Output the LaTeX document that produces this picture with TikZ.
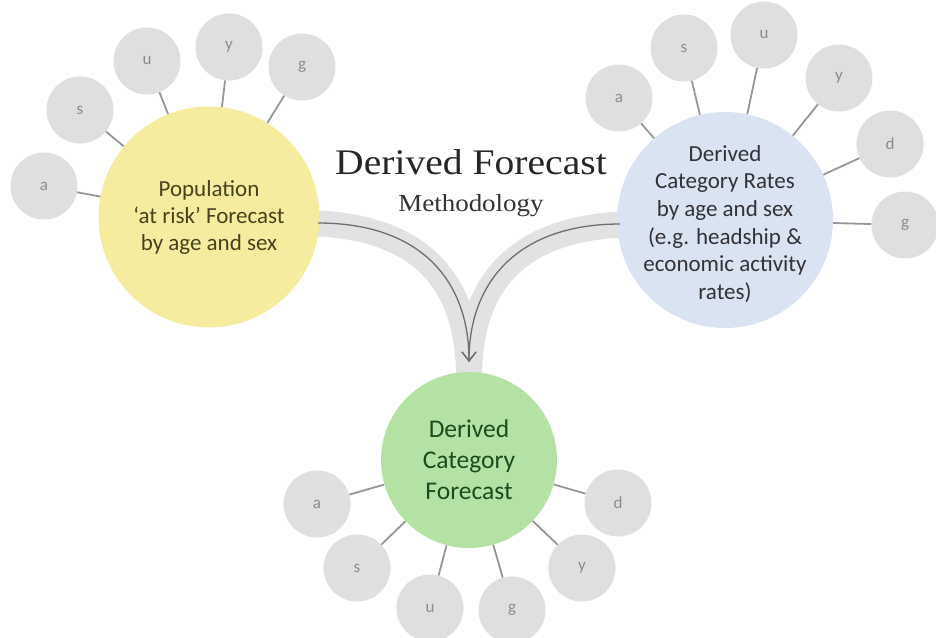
\documentclass[tikz,border=0pt]{standalone}
\usepackage{fontspec}
\setmainfont{Carlito}
\newfontfamily\titlefont[FakeStretch=1.1]{Liberation Serif}
\usetikzlibrary{arrows.meta}
\pgfdeclarelayer{background}
\pgfsetlayers{background,main}
\definecolor{leafgray}{RGB}{223,223,223}
\definecolor{leaftext}{RGB}{140,140,140}
\definecolor{linkgray}{RGB}{150,150,150}
\definecolor{bandgray}{RGB}{226,226,226}
\definecolor{arrowgray}{RGB}{110,110,110}
\definecolor{yfill}{RGB}{246,236,160}
\definecolor{bfill}{RGB}{218,227,241}
\definecolor{gfill}{RGB}{180,226,164}
\definecolor{ytext}{RGB}{70,66,30}
\definecolor{btext}{RGB}{50,50,55}
\definecolor{gtext}{RGB}{30,75,30}
\tikzset{
  leaf/.style={circle,fill=leafgray,minimum size=67pt,inner sep=0pt,text=leaftext,font=\fontsize{17}{19}\selectfont},
  hub/.style={circle,inner sep=0pt,align=center},
  link/.style={draw=linkgray,line width=1.8pt},
  band/.style={draw=bandgray,line width=26pt},
  flow/.style={draw=arrowgray,line width=1.3pt,-{Straight Barb[length=9pt,width=14pt,line width=1.3pt]}}
}
\begin{document}
\begin{tikzpicture}[x=1pt,y=-1pt]
\useasboundingbox (0,0) rectangle (936,637);
% hubs
\node[hub,fill=yfill,minimum size=221pt,text=ytext,font=\fontsize{23}{27}\selectfont] (Y) at (209,217) {Population\\‘at risk’ Forecast\\by age and sex};
\node[hub,fill=bfill,minimum size=216pt] (B) at (725,220) {};
\node[text=btext,font=\fontsize{23}{27.7}\selectfont,align=center] (Bt) at (725,224) {Derived\\Category Rates\\by age and sex\\(e.g. headship \&\\economic activity\\rates)};
\node[hub,fill=gfill,minimum size=176pt,text=gtext,font=\fontsize{25.5}{31}\selectfont] (G) at (469,460) {Derived\\Category\\Forecast};
% title
\node[font=\titlefont\fontsize{36}{38}\selectfont,text=black!85,anchor=base] (T) at (471,174) {Derived Forecast};
\node[font=\titlefont\fontsize{24.5}{26}\selectfont,text=black!80,anchor=base] (M) at (471,211) {Methodology};
% left cluster
\node[leaf] (ya) at (44,186) {a};
\node[leaf] (ys) at (80,110) {s};
\node[leaf] (yu) at (147,61) {u};
\node[leaf] (yy) at (229,47) {y};
\node[leaf] (yg) at (302,67) {g};
% right cluster
\node[leaf] (ba) at (619,98) {a};
\node[leaf] (bs) at (684,48) {s};
\node[leaf] (bu) at (764,35) {u};
\node[leaf] (by) at (839,78) {y};
\node[leaf] (bd) at (890,144) {d};
\node[leaf] (bg) at (905,225) {g};
% bottom cluster
\node[leaf] (ga) at (317,504) {a};
\node[leaf] (gs) at (357,568) {s};
\node[leaf] (gu) at (430,608) {u};
\node[leaf] (gg) at (512,610) {g};
\node[leaf] (gy) at (582,568) {y};
\node[leaf] (gd) at (618,503) {d};
% links
\foreach \l in {ya,ys,yu,yy,yg} \draw[link] (\l) -- (Y);
\foreach \l in {ba,bs,bu,by,bd,bg} \draw[link] (\l) -- (B);
\foreach \l in {ga,gs,gu,gg,gy,gd} \draw[link] (\l) -- (G);
% flows
\coordinate (ls) at (318,223);
\coordinate (rs) at (620,224);
\coordinate (tip) at (469,362);
\coordinate (bend) at (469,378);
\begin{pgfonlayer}{background}
\draw[band] (300,223) .. controls (420,223) and (469,280) .. (bend);
\draw[band] (640,224) .. controls (520,224) and (469,280) .. (bend);
\end{pgfonlayer}
\draw[flow] (ls) .. controls (420,223) and (469,280) .. (tip);
\draw[flow] (rs) .. controls (520,224) and (469,280) .. (tip);
\end{tikzpicture}
\end{document}
